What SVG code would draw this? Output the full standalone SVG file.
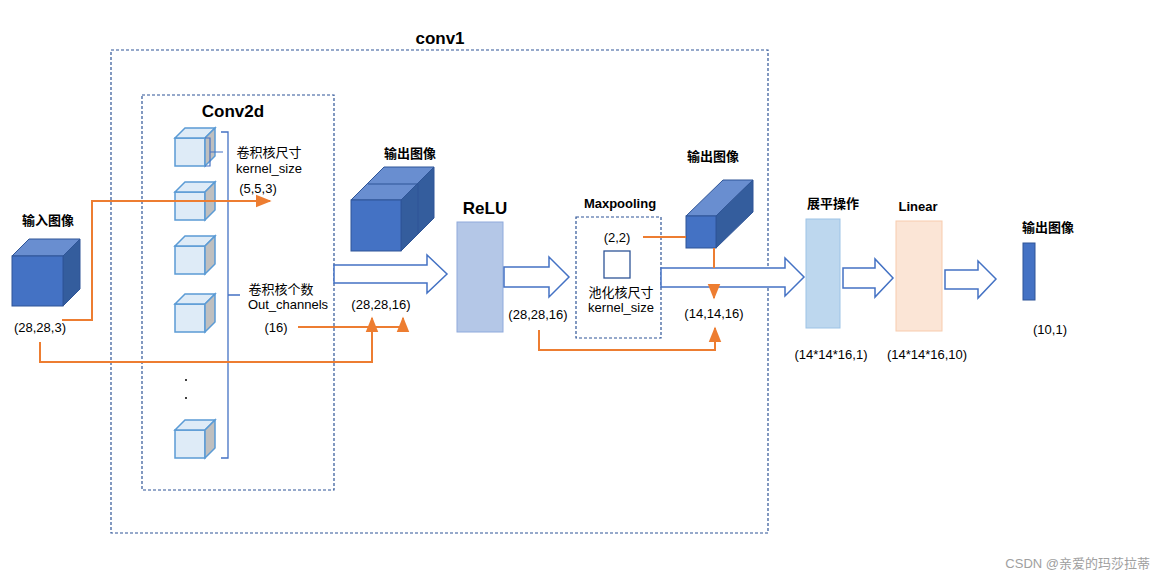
<svg xmlns="http://www.w3.org/2000/svg" width="1165" height="582" viewBox="0 0 1165 582">
<defs>
<marker id="oa" viewBox="0 0 10 10" refX="9" refY="5" markerWidth="8" markerHeight="8" orient="auto"><path d="M0,1 L10,5 L0,9 z" fill="#ed7d31"/></marker>
<g id="kc"><path d="M0,0 L10,-10 L40,-10 L40,18 L30,28 L30,0 z" fill="#bdd7ee"/><rect x="0" y="0" width="30" height="28" fill="#deebf7" stroke="#5b9bd5" stroke-width="1.5"/><path d="M0,0 L10,-10 L40,-10 L30,0 z" fill="#deebf7" stroke="#5b9bd5" stroke-width="1.5"/><path d="M30,0 L40,-10 L40,18 L30,28 z" fill="#bfbfbf" stroke="#5b9bd5" stroke-width="1.5"/></g>
</defs>
<style>
text{font-family:"Liberation Sans","Noto Sans CJK SC",sans-serif;font-size:13px;fill:#000;text-anchor:middle}
.b{font-weight:bold}
.t{font-size:17px;font-weight:bold}
.dash{fill:none;stroke:#2f5597;stroke-width:1.2;stroke-dasharray:3,2}
.ol{fill:none;stroke:#ed7d31;stroke-width:2}
.ba{fill:#fff;stroke:#4472c4;stroke-width:1.5}
.front{fill:#4472c4;stroke:#2f5597}
.top{fill:#698ed0;stroke:#2f5597}
.side{fill:#345d9d;stroke:#2f5597}
</style>
<rect width="1165" height="582" fill="#fff"/>
<g id="conv1"><rect class="dash" x="111" y="50" width="657" height="483"/><text class="t" x="440" y="44">conv1</text></g>
<g id="conv2d"><rect class="dash" x="142" y="95" width="192" height="395"/><text class="t" x="233" y="117">Conv2d</text>
<use href="#kc" x="175" y="138"/><use href="#kc" x="175" y="192"/><use href="#kc" x="175" y="246"/><use href="#kc" x="175" y="304"/><use href="#kc" x="175" y="430"/>
<circle cx="186" cy="380" r="1" fill="#000"/><circle cx="186" cy="398" r="1" fill="#000"/>
<path d="M221,132 L228,132 L228,458 L221,458 M228,295 L240,295" fill="none" stroke="#4472c4" stroke-width="1.3"/>
<path d="M205,138 L210,138 L210,166 L205,166 M210,152 L223,152" fill="none" stroke="#4472c4" stroke-width="1.2"/>
<text x="269" y="157" font-size="12">卷积核尺寸</text><text x="269" y="173" font-size="12">kernel_size</text><text x="258" y="193">(5,5,3)</text>
<text x="281" y="294" font-size="12">卷积核个数</text><text x="288" y="309" font-size="12">Out_channels</text><text x="276" y="332">(16)</text>
</g>
<g id="input"><text class="b" x="48" y="225">输入图像</text>
<path class="top" d="M12,256 L29,239 L80,239 L63,256 z"/><path class="side" d="M63,256 L80,239 L80,289 L63,306 z"/><rect class="front" x="12" y="256" width="51" height="50"/>
<text x="40" y="332">(28,28,3)</text></g>
<g id="out1"><text class="b" x="410" y="158">输出图像</text>
<path class="top" d="M351,200 L384,167 L434,167 L401,200 z"/><path class="side" d="M401,200 L434,167 L434,218 L401,251 z"/><rect class="front" x="351" y="200" width="50" height="51"/><path d="M368,184 L418,184 L418,234" fill="none" stroke="#2f5597"/>
<text x="381" y="309">(28,28,16)</text></g>
<g id="relu"><text class="t" x="485" y="214">ReLU</text><rect x="457" y="222" width="46" height="110" fill="#b4c7e7" stroke="#8faadc"/><text x="538" y="319">(28,28,16)</text></g>
<g id="maxpool"><text class="b" x="620" y="208" font-size="16">Maxpooling</text><rect class="dash" x="576" y="217" width="85" height="121"/>
<text x="617" y="242">(2,2)</text><rect x="604" y="251" width="26" height="27" fill="#fff" stroke="#2f5597" stroke-width="1.3"/>
<text x="621" y="297">池化核尺寸</text><text x="621" y="312" font-size="12">kernel_size</text></g>
<g id="out2"><text class="b" x="713" y="161">输出图像</text>
<path class="top" d="M686,216 L723,180 L753,180 L716,216 z"/><path class="side" d="M716,216 L753,180 L753,212 L716,248 z"/><rect class="front" x="686" y="216" width="30" height="32"/>
<text x="714" y="318">(14,14,16)</text></g>
<g id="flatten"><text class="b" x="833" y="208">展平操作</text><rect x="806" y="219" width="34" height="109" fill="#bdd7ee" stroke="#9dc3e6"/><text x="831" y="359">(14*14*16,1)</text></g>
<g id="linear"><text class="b" x="918" y="211">Linear</text><rect x="896" y="221" width="46" height="110" fill="#fbe5d6" stroke="#f8cbad"/><text x="927" y="359">(14*14*16,10)</text></g>
<g id="out3"><text class="b" x="1048" y="232">输出图像</text><rect x="1023" y="243" width="12" height="57" fill="#4472c4" stroke="#2f5597"/><text x="1050" y="334">(10,1)</text></g>
<g id="connectors">
<path class="ba" d="M334,265 L427,265 L427,255 L447,274 L427,293 L427,283 L334,283 z"/>
<path class="ba" d="M504,267 L549,267 L549,257 L569,277 L549,297 L549,287 L504,287 z"/>
<path class="ba" d="M661,268 L785,268 L785,258 L804,277 L785,296 L785,287 L661,287 z"/>
<path class="ba" d="M843,268 L875,268 L875,259 L893,278 L875,297 L875,288 L843,288 z"/>
<path class="ba" d="M945,270 L978,270 L978,261 L996,279 L978,298 L978,289 L945,289 z"/>
<path class="ol" d="M62,320 L92,320 L92,201 L270,201" marker-end="url(#oa)"/>
<path class="ol" d="M40,342 L40,362 L372,362 L372,318" marker-end="url(#oa)"/>
<path class="ol" d="M298,327 L403,327 L403,318" marker-end="url(#oa)"/>
<path class="ol" d="M643,237 L686,237"/>
<path class="ol" d="M714,248 L714,268"/>
<path class="ol" d="M714,288 L714,298" marker-end="url(#oa)"/>
<path class="ol" d="M539,330 L539,350 L715,350 L715,328" marker-end="url(#oa)"/>
</g>
<text x="1150" y="568" font-size="17" fill="#999" style="text-anchor:end;fill:#a0a0a0">CSDN @亲爱的玛莎拉蒂</text>
</svg>
